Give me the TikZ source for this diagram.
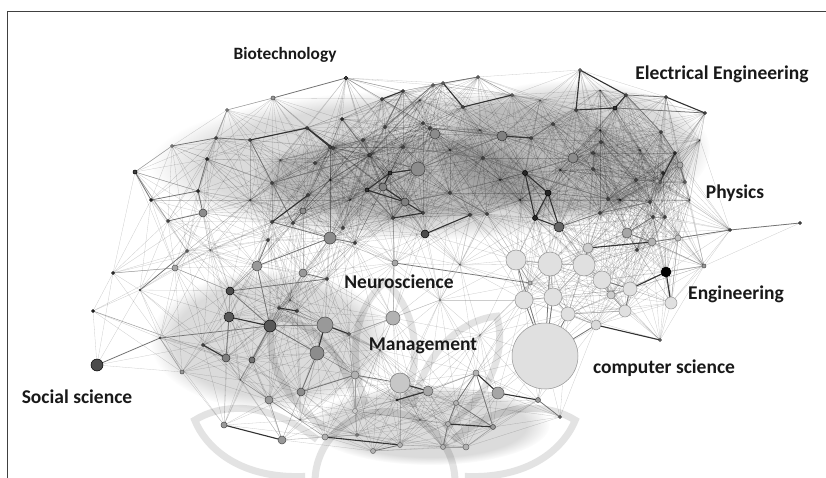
\documentclass[tikz,border=0pt]{standalone}
\usepackage{fontspec}
\setmainfont{Carlito}
\usetikzlibrary{fadings}
\def\netnodes{346/78/1.8/70, 273/98/2/40, 227/110/1.5/40, 216/138/1.5/60, 172/146/1.5/40,
135/172/2/75, 151/200/1.5/75, 207/159/1.5/70, 198/191/1.5/70, 203/213/4/45,
168/221/1.5/60, 250/140/1.5/60, 307/128/1.5/60, 333/148/1.5/60, 369/155/1.5/60,
342/119/1.5/70, 382/99/1.5/60, 403/91/1.5/60, 433/85/1.5/50, 443/83/1.5/50,
478/77/1.5/50, 512/95/1.5/50, 463/107/1.5/60, 430/128/1.5/60, 435/134/5/45,
502/136/5/50, 525/173/2.5/85, 418/169/7/45, 383/187/4/50, 405/202/4/50,
390/173/2/80, 367/190/2/80, 370/155/1.5/60, 403/147/1.5/60, 330/147/1.5/60,
315/163/1.5/60, 272/183/1.5/60, 308/195/1.5/60, 272/222/1.5/60, 293/223/1.5/60,
303/211/3/45, 330/238/6/45, 425/234/4/70, 470/215/1.5/60, 487/214/1.5/60,
393/218/1.5/60, 423/213/1.5/60, 450/193/1.5/60, 483/158/1.5/60, 268/240/1.5/60,
343/228/1.5/60, 385/127/1.5/60, 363/140/1.5/60, 580/70/1.5/50, 576/110/1.5/60,
626/95/1.5/60, 615/108/2/80, 705/113/1.5/60, 666/97/1.5/60, 661/132/1.5/60,
675/153/1.5/70, 660/182/1.5/50, 685/182/1.5/50, 680/165/3/35, 548/193/3/85,
535/218/2.5/85, 559/227/5/60, 573/158/5/45, 593/153/1.5/60, 593/169/1.5/60,
601/142/1.5/60, 636/180/1.5/60, 608/199/1.5/60, 531/138/1.5/60, 553/124/1.5/60,
423/123/1.5/60, 800/223/1.5/60, 730/230/1.5/60, 653/217/1.5/60, 665/217/1.5/60,
627/233/5/35, 652/242/4/30, 678/238/3/25, 600/213/1.5/60, 650/202/1.5/60,
657/181/2/30, 637/250/1.5/60, 663/173/1.5/70, 545/356/33/12, 516/260/10/12,
550/264/12/12, 584/265/11/12, 602/280/9/12, 524/300/9/12, 553/297/9/12,
568/314/7/12, 630/289/7/12, 625/311/6/12, 596/325/5/15, 671/303/6/12,
666/272/5/100, 611/295/4/20, 588/248/5/20, 530/283/2/30, 660/340/1.5/50,
704/266/2/40, 393/318/7/30, 400/383/10/22, 325/325/8/40, 317/353/7/45,
270/326/6/65, 229/317/5/65, 230/291/4/70, 226/358/4/50, 252/360/3/55,
301/392/4/45, 97/365/6/70, 113/273/1.5/70, 93/311/1.5/80, 175/268/3/35,
257/266/5/40, 395/263/3/35, 355/375/4/30, 282/440/4/40, 224/425/3/40,
325/437/3/30, 373/451/2.5/30, 400/445/2.5/30, 355/411/2.5/20, 269/400/4/40,
182/372/2/40, 140/290/0.8/50, 160/338/0.8/50, 187/251/1.5/50, 349/334/1.5/50,
428/391/5/35, 476/373/3/30, 498/393/6/35, 538/400/2.5/40, 456/403/2.5/30,
448/424/2.5/30, 493/427/2.5/40, 443/447/2.5/30, 466/447/3/30, 357/435/1.5/40,
560/417/1.5/50, 303/273/4/40, 327/279/1.5/60, 355/243/1.5/60, 203/345/1.5/60,
279/308/1.5/60, 297/311/1.5/60, 397/400/1/60, 450/150/0/0, 500/180/0/0,
350/200/0/0, 600/130/0/0, 540/100/0/0, 250/200/0/0, 210/250/0/0,
290/300/0/0, 460/265/0/0, 440/300/0/0, 480/335/0/0, 380/350/0/0,
520/200/0/0, 640/150/0/0, 700/140/0/0, 240/380/0/0, 420/420/0/0,
300/420/0/0, 480/130/0/0, 560/170/0/0, 620/200/0/0, 330/180/0/0,
280/160/0/0, 420/100/0/0, 600/90/0/0, 690/200/0/0}
\def\dsq#1#2{\numexpr(\csname nx#1\endcsname-\csname nx#2\endcsname)*(\csname nx#1\endcsname-\csname nx#2\endcsname)+(\csname ny#1\endcsname-\csname ny#2\endcsname)*(\csname ny#1\endcsname-\csname ny#2\endcsname)\relax}
\begin{document}
\begin{tikzpicture}[x=1pt,y=-1pt,
  haze/.style={draw=black, opacity=0.2, line width=0.3pt},
  fog/.style={fill=black, fill opacity=0.14, path fading=circle with fuzzy edge 20 percent},
  eda/.style={draw=black!80, line width=1.1pt, line cap=round},
  edb/.style={draw=black!55, line width=0.75pt, line cap=round},
  edc/.style={draw=black!38, line width=0.5pt},
  lbl/.style={font=\bfseries, text=black!90},
  wm/.style={draw=black!11, line width=7pt}]
\useasboundingbox (0,0) rectangle (826,478);
\fill[white] (0,0) rectangle (826,478);
% watermark
\begin{scope}[shift={(385,482)}]
  \draw[wm] (0,0) circle[radius=70pt];
  \foreach \a in {198,236,270,304,342}
    \draw[wm] (\a-14:80) .. controls (\a-17:150) and (\a-6:185) .. (\a:200)
      .. controls (\a+6:185) and (\a+17:150) .. (\a+14:80);
\end{scope}
% soft fog behind the dense parts
\fill[fog] (420,165) ellipse[x radius=270pt, y radius=75pt];
\fill[fog] (400,178) ellipse[x radius=150pt, y radius=45pt];
\fill[fog] (570,150) ellipse[x radius=140pt, y radius=70pt];
\fill[fog] (270,340) ellipse[x radius=120pt, y radius=70pt];
\fill[fog] (430,425) ellipse[x radius=120pt, y radius=40pt];
% network coordinates
\foreach \x/\y/\r/\g [count=\k] in \netnodes {%
  \coordinate (n\k) at (\x,\y);
  \expandafter\xdef\csname nx\k\endcsname{\x}%
  \expandafter\xdef\csname ny\k\endcsname{\y}%
  \xdef\NN{\k}}
% faint haze of edges
\foreach \i in {1,...,\NN}{\foreach \j in {1,...,\NN}{%
  \ifnum\j>\i\relax
    \ifnum\dsq\i\j<12100\relax \draw[haze] (n\i)--(n\j);\fi
  \fi}}
% light edges
\foreach \a/\b in {1/18, 3/8, 6/9, 6/11, 21/22, 90/91, 91/92, 92/93, 94/95, 95/96,
  93/102, 102/98, 96/98, 91/95, 90/94, 92/95, 106/82, 118/120, 119/114, 121/113,
  107/135, 136/137, 143/144, 142/144, 130/124, 131/133, 129/123, 145/126, 134/120,
  3/2, 5/6, 120/113, 112/113, 62/61, 64/61, 86/88, 88/61, 87/82, 90/104, 104/94,
  99/96, 97/102, 100/83, 106/101}
  \draw[edc] (n\a)--(n\b);
% medium edges
\foreach \a/\b in {2/1, 4/12, 12/40, 7/9, 39/42, 42/149, 50/121, 113/148, 117/133,
  133/111, 134/132, 28/29, 30/46, 32/46, 52/19, 18/52, 19/21, 24/26, 16/33, 37/33,
  28/26, 30/48, 48/45, 34/49, 49/27, 56/59, 57/58, 56/60, 61/63, 68/71, 74/75,
  27/73, 77/78, 78/83, 67/84, 84/85, 79/81, 89/90, 89/91, 89/95, 89/96, 89/94,
  89/99, 93/97, 98/97, 103/92, 113/111, 112/114, 111/115, 111/110, 111/109,
  110/116, 121/42, 121/111, 147/148, 123/108, 137/140, 140/141, 142/137, 141/143,
  140/142, 139/146, 127/128, 116/123, 122/104, 11/10, 10/9, 8/9, 6/7, 5/4, 36/14,
  41/40, 53/15, 60/61, 64/63, 71/72, 72/73, 69/70, 85/86, 81/82, 82/83, 62/72,
  25/24, 76/24}
  \draw[edb] (n\a)--(n\b);
% dark edges
\foreach \a/\b in {12/13, 13/14, 38/39, 17/18, 20/23, 23/22, 31/32, 31/29, 29/30,
  32/30, 28/31, 30/47, 43/44, 46/47, 54/56, 54/55, 55/57, 56/57, 59/58, 61/62,
  27/65, 65/66, 27/66, 66/67, 65/67, 26/74, 97/101, 101/100, 99/105, 112/111,
  109/110, 109/135, 150/114, 151/152, 108/136, 153/136, 137/138, 138/139,
  141/142, 126/128, 125/124, 13/35, 103/82}
  \draw[eda] (n\a)--(n\b);
% node discs
\foreach \x/\y/\r/\g [count=\k] in \netnodes {%
  \ifdim\r pt>0.1pt
    \pgfmathtruncatemacro\gd{min(100,\g+30)}%
    \filldraw[fill=black!\g, draw=black!\gd, line width=0.5pt] (n\k) circle[radius=\r pt];
  \fi}
% labels
\node[lbl] (bio) at (285,55) {\fontsize{17.3}{20}\selectfont Biotechnology};
\node[lbl] (ee) at (722,74) {\fontsize{19.5}{22}\selectfont Electrical Engineering};
\node[lbl] (phy) at (735,193) {\fontsize{19.5}{22}\selectfont Physics};
\node[lbl] (neu) at (399,282) {\fontsize{19.5}{22}\selectfont Neuroscience};
\node[lbl] (eng) at (736,294) {\fontsize{19.5}{22}\selectfont Engineering};
\node[lbl] (man) at (423,346) {\fontsize{19.5}{22}\selectfont Management};
\node[lbl] (cs) at (664,368) {\fontsize{19.5}{22}\selectfont computer science};
\node[lbl] (soc) at (77,397) {\fontsize{19.5}{22}\selectfont Social science};
% frame
\draw[black!75, line width=1pt] (7,478) -- (7,12) -- (826,12);
\end{tikzpicture}
\end{document}
